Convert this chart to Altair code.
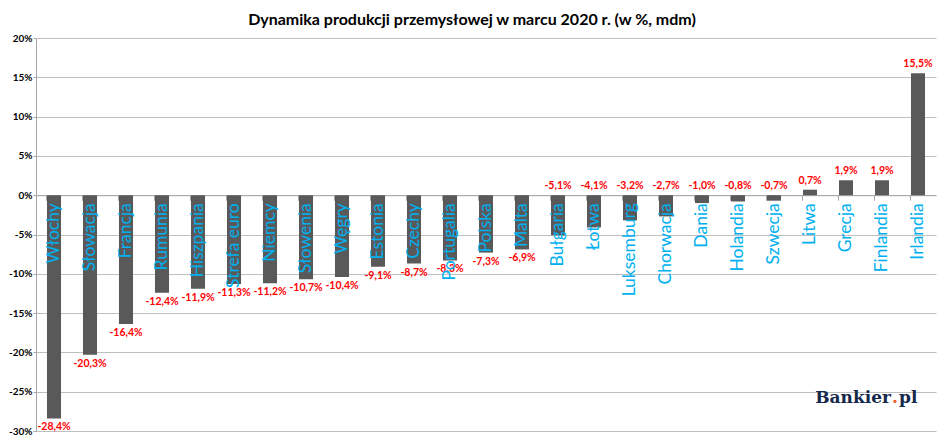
import altair as alt
import pandas as pd

countries = [
    "Włochy", "Słowacja", "Francja", "Rumunia", "Hiszpania", "Strefa euro",
    "Niemcy", "Słowenia", "Węgry", "Estonia", "Czechy", "Portugalia",
    "Polska", "Malta", "Bułgaria", "Łotwa", "Luksemburg", "Chorwacja",
    "Dania", "Holandia", "Szwecja", "Litwa", "Grecja", "Finlandia", "Irlandia",
]
values = [
    -28.4, -20.3, -16.4, -12.4, -11.9, -11.3,
    -11.2, -10.7, -10.4, -9.1, -8.7, -8.3,
    -7.3, -6.9, -5.1, -4.1, -3.2, -2.7,
    -1.0, -0.8, -0.7, 0.7, 1.9, 1.9, 15.5,
]
y_ticks = [-30, -25, -20, -15, -10, -5, 0, 5, 10, 15, 20]
title = "Dynamika produkcji przemysłowej w marcu 2020 r. (w %, mdm)"

W, H = 900, 393
df = pd.DataFrame({"kraj": countries, "wartosc": values})

base = alt.Chart(df).transform_calculate(
    etykieta="replace(replace(format(datum.wartosc, '.1f'), '.', ','), '\u2212', '-') + '%'",
    ly="datum.wartosc < -6 ? datum.wartosc : max(datum.wartosc, 0)",
    zero="0",
)

x_axis = alt.Axis(
    labels=False, title=None, grid=False, bandPosition=0,
    offset=-(H * 30 / 50), tickSize=5, tickColor="#A6A6A6",
    domainColor="#A6A6A6",
)
y_axis = alt.Axis(
    values=y_ticks, labelExpr="datum.value + '%'", labelFontWeight="bold",
    labelFontSize=10, labelColor="black", labelFont="Lato",
    labelOverlap=False, tickSize=3, tickColor="#A6A6A6",
    domainColor="#A6A6A6", gridColor="#BFBFBF", labelPadding=1,
)
x_scale = alt.Scale(paddingInner=0.61, paddingOuter=0.305)
y_scale = alt.Scale(domain=[-30, 20], nice=False)


def xe():
    return alt.X("kraj:N", sort=None, scale=x_scale, axis=x_axis, title=None)


def ye(field):
    return alt.Y(field, scale=y_scale, axis=y_axis, title=None)


bars = base.mark_bar(color="#595959").encode(x=xe(), y=ye("wartosc:Q"))

below = base.transform_filter("datum.wartosc < -6").mark_text(
    color="#FF0000", font="Lato", fontWeight="bold", fontSize=10.5,
    baseline="top", dy=4,
).encode(x=xe(), y=ye("ly:Q"), text="etykieta:N")

above = base.transform_filter("datum.wartosc >= -6").mark_text(
    color="#FF0000", font="Lato", fontWeight="bold", fontSize=10.5,
    baseline="bottom", dy=-4,
).encode(x=xe(), y=ye("ly:Q"), text="etykieta:N")

names = base.mark_text(
    color="#00B0F0", font="Lato", fontSize=17.5, angle=270,
    align="right", baseline="middle", dx=-8,
).encode(x=xe(), y=ye("zero:Q"), text="kraj:N")

logo1 = alt.Chart(pd.DataFrame({"t": ["Bankier"]})).mark_text(
    font="DejaVu Serif", fontWeight="bold", fontSize=17, color="#14284B",
    align="right", baseline="alphabetic",
).encode(x=alt.value(855), y=alt.value(365), text="t:N")
logo2 = alt.Chart(pd.DataFrame({"t": ["."]})).mark_text(
    font="DejaVu Serif", fontWeight="bold", fontSize=17, color="#F05A28",
    align="center", baseline="alphabetic",
).encode(x=alt.value(859), y=alt.value(365), text="t:N")
logo3 = alt.Chart(pd.DataFrame({"t": ["pl"]})).mark_text(
    font="DejaVu Serif", fontWeight="bold", fontSize=17, color="#14284B",
    align="left", baseline="alphabetic",
).encode(x=alt.value(863), y=alt.value(365), text="t:N")

chart = (
    alt.layer(bars, below, above, names, logo1, logo2, logo3)
    .properties(
        width=W,
        height=H,
        autosize=alt.AutoSizeParams(type="none"),
        padding={"left": 28, "top": 30, "right": 1, "bottom": 4},
        title=alt.TitleParams(
            title, font="Lato", fontSize=16, fontWeight="bold", color="black",
            anchor="middle", dx=-14, offset=5,
        ),
    )
    .configure_view(stroke=None)
)

chart.save("out.html", embed_options={"renderer": "svg", "actions": False})
